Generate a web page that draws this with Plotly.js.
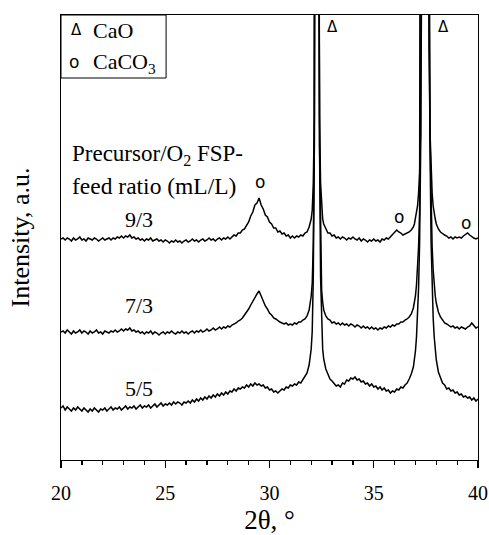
<!DOCTYPE html>
<html><head><meta charset="utf-8">
<script src="https://cdn.plot.ly/plotly-3.0.1.min.js"></script>
<style>html,body{margin:0;padding:0;background:#fff}</style>
</head><body><div id="chart" style="width:489px;height:535px"></div>
<script>
// 2-theta grid (degrees)
const twoTheta = [
20.0,20.1,20.2,20.3,20.4,20.5,20.6,20.7,20.8,20.9,
21.0,21.1,21.2,21.3,21.4,21.5,21.6,21.7,21.8,21.9,
22.0,22.1,22.2,22.3,22.4,22.5,22.6,22.7,22.8,22.9,
23.0,23.1,23.2,23.3,23.4,23.5,23.6,23.7,23.8,23.9,
24.0,24.1,24.2,24.3,24.4,24.5,24.6,24.7,24.8,24.9,
25.0,25.1,25.2,25.3,25.4,25.5,25.6,25.7,25.8,25.9,
26.0,26.1,26.2,26.3,26.4,26.5,26.6,26.7,26.8,26.9,
27.0,27.1,27.2,27.3,27.4,27.5,27.6,27.7,27.8,27.9,
28.0,28.1,28.2,28.3,28.4,28.5,28.6,28.7,28.8,28.9,
29.0,29.1,29.2,29.3,29.4,29.5,29.6,29.7,29.8,29.9,
30.0,30.1,30.2,30.3,30.4,30.5,30.6,30.7,30.8,30.9,
31.0,31.1,31.2,31.3,31.4,31.5,31.6,31.7,31.8,31.9,
32.0,32.05,32.1,32.15,32.2,32.25,32.3,32.35,32.4,32.45,32.5,32.55,32.6,
32.7,32.8,32.9,
33.0,33.1,33.2,33.3,33.4,33.5,33.6,33.7,33.8,33.9,
34.0,34.1,34.2,34.3,34.4,34.5,34.6,34.7,34.8,34.9,
35.0,35.1,35.2,35.3,35.4,35.5,35.6,35.7,35.8,35.9,
36.0,36.1,36.2,36.3,36.4,36.5,36.6,36.7,36.8,
36.9,36.95,37.0,37.05,37.1,37.15,37.2,37.25,37.3,37.35,37.4,37.45,37.5,37.55,37.6,37.65,37.7,37.75,37.8,37.85,37.9,37.95,38.0,
38.1,38.2,38.3,38.4,38.5,38.6,38.7,38.8,38.9,
39.0,39.1,39.2,39.3,39.4,39.5,39.6,39.7,39.8,39.9,
40.0
];

// Intensity (a.u.) for each precursor/O2 ratio, offset stacked
const int93 = [
221,222,220,222,221,219,222,220,221,223,
220,221,219,222,221,220,222,221,219,221,
222,220,221,222,220,222,221,223,222,224,
222,224,223,225,222,223,221,222,220,221,
219,221,220,222,219,220,221,219,220,218,
220,219,217,219,218,220,218,219,217,219,
220,218,219,221,219,220,218,220,221,219,
220,222,220,221,219,221,222,220,222,221,
223,221,223,225,224,227,227,230,231,235,
238,244,248,255,257,262,255,251,245,243,
238,236,232,232,228,229,226,227,224,225,
222,224,222,224,223,225,224,227,228,233,
241,250,277,342,622,3200,3200,622,342,277,250,241,236,
231,227,227,
224,225,222,223,221,223,222,220,222,221,
223,221,220,222,219,221,220,218,220,219,
221,219,220,218,221,220,222,221,223,225,
227,230,228,227,225,226,227,228,230,
233,236,241,246,254,267,287,327,412,602,1122,3200,3200,1122,602,412,327,287,267,254,246,241,236,
231,228,226,225,224,222,223,221,223,
222,223,222,224,226,227,225,223,222,221,
222
];

const int73 = [
128,129,127,130,128,126,129,127,128,130,
127,129,128,126,129,127,128,130,127,128,
126,129,128,127,129,128,130,128,129,131,
129,131,130,132,129,130,128,129,127,128,
126,128,127,129,126,128,127,125,127,128,
126,128,127,129,127,126,128,127,129,127,
128,126,128,129,127,129,128,130,128,129,
131,129,130,132,130,131,133,131,133,132,
134,133,135,136,137,139,140,142,145,147,
151,155,159,163,166,169,164,159,154,151,
147,145,142,141,139,138,137,136,137,135,
136,135,137,136,138,138,140,141,144,150,
164,177,217,315,735,3500,3500,735,315,210,170,158,150,
144,141,140,
137,138,136,137,135,137,135,136,134,136,
135,133,135,134,132,134,132,133,131,133,
131,132,130,132,131,133,132,134,133,135,
134,136,136,138,138,140,141,143,146,
152,157,164,175,190,213,249,321,474,816,1752,5000,5000,1752,816,474,321,249,213,190,175,164,157,
148,143,140,137,136,134,133,134,132,
133,131,133,132,131,133,134,137,134,132,
133
];

const int55 = [
52,54,50,53,51,49,52,50,53,51,
49,52,50,48,51,49,52,50,48,51,
50,52,49,51,53,50,52,51,53,50,
52,54,51,53,52,54,51,53,55,52,
54,53,55,52,54,56,53,55,57,54,
56,55,57,55,58,56,58,57,55,58,
57,59,57,60,58,61,59,62,60,63,
61,64,62,65,63,66,64,67,65,68,
66,69,68,71,69,72,71,73,72,75,
73,76,74,77,75,76,74,75,72,73,
70,71,68,69,67,69,71,70,73,72,
75,74,76,75,78,77,80,83,87,95,
111,129,183,313,873,5000,5000,873,313,183,129,111,101,
91,86,81,
79,77,74,75,73,77,76,80,79,82,
81,83,80,81,78,79,76,77,74,76,
73,74,71,73,70,72,69,70,67,69,
68,71,70,73,72,75,77,81,86,
93,100,109,123,142,172,218,310,505,942,2138,7000,7000,2138,942,505,310,218,172,142,123,109,100,
88,82,77,75,71,72,69,70,67,
68,65,66,63,64,62,63,60,62,59,
61
];

const seriesLabels = ['9/3', '7/3', '5/5'];
const xTicks = [20, 25, 30, 35, 40];
const phaseMarkText = ['Δ', 'Δ', 'o', 'o', 'o'];
const phaseMarkX = [33.0, 38.35, 29.54, 36.21, 39.42];
const phaseMarkY = [433, 433, 278, 243, 237];

const serif = 'Liberation Serif, Times New Roman, serif';
const sans = 'DejaVu Sans, Liberation Sans, sans-serif';

const traces = [int93, int73, int55].map((ys, i) => ({
  x: twoTheta, y: ys, type: 'scatter', mode: 'lines', name: seriesLabels[i],
  line: {color: 'black', width: 1.5}, hoverinfo: 'skip'
}));

const annotations = [];
// series labels
const labelY = [241, 155, 72];
seriesLabels.forEach((t, i) => annotations.push({
  x: 23.74, y: labelY[i], xref: 'x', yref: 'y', text: t, showarrow: false,
  font: {family: serif, size: 22, color: 'black'}, xanchor: 'center', yanchor: 'middle'
}));
// phase marks
phaseMarkText.forEach((t, i) => annotations.push({
  x: phaseMarkX[i], y: phaseMarkY[i], xref: 'x', yref: 'y', text: t, showarrow: false,
  font: {family: sans, size: t === 'Δ' ? 15 : 17, color: 'black'}, xanchor: 'center', yanchor: 'middle'
}));
// legend content
annotations.push({x: 20.72, y: 430, xref: 'x', yref: 'y', text: 'Δ', showarrow: false,
  font: {family: sans, size: 15, color: 'black'}, xanchor: 'center', yanchor: 'middle'});
annotations.push({x: 21.44, y: 430, xref: 'x', yref: 'y', text: 'CaO', showarrow: false,
  font: {family: serif, size: 22, color: 'black'}, xanchor: 'left', yanchor: 'middle'});
annotations.push({x: 20.62, y: 398, xref: 'x', yref: 'y', text: 'o', showarrow: false,
  font: {family: sans, size: 17, color: 'black'}, xanchor: 'center', yanchor: 'middle'});
annotations.push({x: 21.44, y: 397, xref: 'x', yref: 'y', text: 'CaCO<sub>3</sub>', showarrow: false,
  font: {family: serif, size: 22, color: 'black'}, xanchor: 'left', yanchor: 'middle'});
// ratio caption
annotations.push({x: 20.45, y: 305, xref: 'x', yref: 'y', text: 'Precursor/O<sub>2</sub> FSP-', showarrow: false,
  font: {family: serif, size: 23, color: 'black'}, xanchor: 'left', yanchor: 'middle'});
annotations.push({x: 20.45, y: 274, xref: 'x', yref: 'y', text: 'feed ratio (mL/L)', showarrow: false,
  font: {family: serif, size: 23.5, color: 'black'}, xanchor: 'left', yanchor: 'middle'});

const layout = {
  width: 489, height: 535,
  margin: {l: 61, r: 11, t: 15, b: 75, pad: 0},
  paper_bgcolor: 'white', plot_bgcolor: 'white',
  showlegend: false,
  font: {family: serif, color: 'black', size: 20},
  xaxis: {
    range: [20, 40], tickvals: xTicks, ticktext: xTicks.map(String),
    ticks: 'outside', ticklen: 7, tickwidth: 1.3, tickcolor: 'black',
    ticklabelstandoff: 8,
    minor: {dtick: 1, ticks: 'outside', ticklen: 4, tickwidth: 1.3, tickcolor: 'black', showgrid: false},
    showline: true, mirror: true, linecolor: 'black', linewidth: 1.3,
    showgrid: false, zeroline: false,
    tickfont: {family: serif, size: 20, color: 'black'},
    title: {text: '2θ, °', font: {family: serif, size: 27, color: 'black'}, standoff: 20}
  },
  yaxis: {
    range: [0, 445], showticklabels: false, ticks: '',
    showline: true, mirror: true, linecolor: 'black', linewidth: 1.3,
    showgrid: false, zeroline: false,
    title: {text: 'Intensity, a.u.', font: {family: serif, size: 26, color: 'black'}, standoff: 22}
  },
  shapes: [{type: 'rect', xref: 'x', yref: 'y', x0: 20, x1: 25.04, y0: 382, y1: 445,
    line: {color: 'black', width: 1}}],
  annotations: annotations
};

Plotly.newPlot('chart', traces, layout, {staticPlot: true, displayModeBar: false});
</script>
</body></html>
